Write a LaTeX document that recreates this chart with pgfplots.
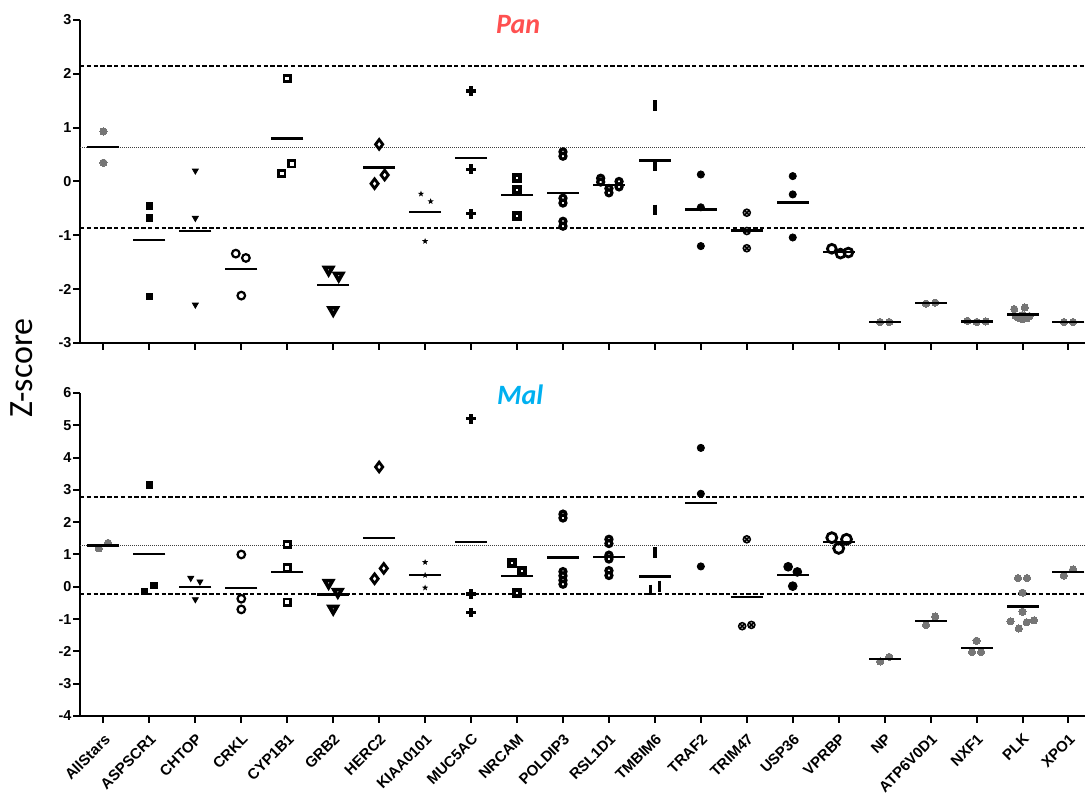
\documentclass[border=0pt]{standalone}
\usepackage{fontspec}
\setmainfont{Liberation Sans}
\newfontfamily\calibri{Carlito}
\usepackage{pgfplots}
\pgfplotsset{compat=1.18}
\usetikzlibrary{plotmarks}
\definecolor{pgrey}{RGB}{118,118,118}
\definecolor{panred}{RGB}{255,80,80}
\definecolor{malblue}{RGB}{0,176,240}

\pgfdeclareplotmark{fstar}{%
  \pgfpathmoveto{\pgfpointpolar{90}{\pgfplotmarksize}}%
  \pgfpathlineto{\pgfpointpolar{126}{0.42\pgfplotmarksize}}%
  \pgfpathlineto{\pgfpointpolar{162}{\pgfplotmarksize}}%
  \pgfpathlineto{\pgfpointpolar{198}{0.42\pgfplotmarksize}}%
  \pgfpathlineto{\pgfpointpolar{234}{\pgfplotmarksize}}%
  \pgfpathlineto{\pgfpointpolar{270}{0.42\pgfplotmarksize}}%
  \pgfpathlineto{\pgfpointpolar{306}{\pgfplotmarksize}}%
  \pgfpathlineto{\pgfpointpolar{342}{0.42\pgfplotmarksize}}%
  \pgfpathlineto{\pgfpointpolar{18}{\pgfplotmarksize}}%
  \pgfpathlineto{\pgfpointpolar{54}{0.42\pgfplotmarksize}}%
  \pgfpathclose\pgfusepathqfill}

\pgfplotsset{
  myaxis/.style={
    scale only axis, width=502.5pt, height=161.5pt,
    xmin=-0.51, xmax=21.36,
    axis x line=bottom, axis y line=left,
    axis line style={-, line width=1pt},
    xtick={0,...,21},
    major tick length=3.5pt,
    tick style={line width=1pt, black},
    tick align=outside,
    clip mode=individual,
    yticklabel style={font=\bfseries\fontsize{7.2}{8}\selectfont, inner sep=0.6pt},
    /pgf/number format/assume math mode=true,
  },
  gdot/.style={only marks, mark=*, mark size=1.8pt, mark options={fill=pgrey, draw=pgrey, line width=0pt}},
  fsq/.style={only marks, mark=square*, mark size=1.6pt, mark options={fill=black, draw=black}},
  stri/.style={only marks, mark=triangle*, mark size=1.7pt, mark options={rotate=180, fill=black, draw=black}},
  ocirc/.style={only marks, mark=o, mark size=1.9pt, mark options={line width=1.1pt, draw=black}},
  osq/.style={only marks, mark=square*, mark size=1.6pt, mark options={line width=1.4pt, fill=white, draw=black}},
  btri/.style={only marks, mark=triangle*, mark size=2.3pt, mark options={rotate=180, line width=1.8pt, fill=white, draw=black}},
  odia/.style={only marks, mark=diamond*, mark size=2.4pt, mark options={line width=1.4pt, fill=white, draw=black}},
  fstr/.style={only marks, mark=fstar, mark size=1.6pt, mark options={fill=black}},
  pls/.style={only marks, mark=+, mark size=2.4pt, mark options={line width=1.6pt, draw=black}},
  nsq/.style={only marks, mark=square*, mark size=1.5pt, mark options={line width=2pt, fill=white, draw=black}},
  blob/.style={only marks, mark=*, mark size=1.5pt, mark options={line width=1.6pt, fill=white, draw=black}},
  vbar/.style={only marks, mark=|, mark size=2.7pt, mark options={line width=1.7pt, draw=black}},
  fdot/.style={only marks, mark=*, mark size=1.8pt, mark options={fill=black, draw=black}},
  otim/.style={only marks, mark=otimes*, mark size=1.8pt, mark options={fill=gray!60, draw=black, line width=0.7pt}},
  bigo/.style={only marks, mark=o, mark size=2.2pt, mark options={line width=1.4pt, draw=black}},
  meanl/.style={only marks, mark=-, mark size=8pt, mark options={line width=1.1pt, draw=black}},
  dashl/.style={no marks, line width=1pt, dash pattern=on 2.2pt off 1.2pt, black},
  dotl/.style={no marks, line width=0.5pt, dash pattern=on 0.5pt off 0.5pt, black!75},
}

\begin{document}
\begin{tikzpicture}
\useasboundingbox (0,0) rectangle (542.5pt,398pt);

% ---------------- Pan ----------------
\begin{axis}[myaxis, at={(40pt,226.5pt)}, anchor=south west,
  ymin=-3, ymax=3, ytick={-3,...,3}, xticklabels={}]
\addplot[dashl] coordinates {(-0.51,2.14) (21.36,2.14)};
\addplot[dotl] coordinates {(-0.51,0.64) (21.36,0.64)};
\addplot[dashl] coordinates {(-0.51,-0.86) (21.36,-0.86)};
% AllStars, NP, ATP6V0D1, NXF1, PLK, XPO1
\addplot[gdot] coordinates {(0,0.93) (0,0.35)};
\addplot[gdot] coordinates {(16.9,-2.61) (17.1,-2.61)};
\addplot[gdot] coordinates {(17.9,-2.27) (18.1,-2.25)};
\addplot[gdot] coordinates {(18.8,-2.59) (19,-2.61) (19.2,-2.60)};
\addplot[gdot] coordinates {(19.82,-2.37) (20.05,-2.34) (20,-2.48) (19.85,-2.50) (20.15,-2.50) (19.9,-2.53) (20.1,-2.54) (20,-2.56)};
\addplot[gdot] coordinates {(20.9,-2.61) (21.1,-2.61)};
\addplot[fsq] coordinates {(1,-0.45) (1,-0.68) (1,-2.13)};
\addplot[stri] coordinates {(2,0.20) (2,-0.68) (2,-2.29)};
\addplot[ocirc] coordinates {(2.88,-1.34) (3.1,-1.42) (3,-2.12)};
\addplot[osq] coordinates {(4,1.91) (3.88,0.15) (4.1,0.33)};
\addplot[btri] coordinates {(4.9,-1.64) (5.12,-1.75) (5,-2.39)};
\addplot[odia] coordinates {(6,0.69) (6.12,0.12) (5.9,-0.04)};
\addplot[fstr] coordinates {(6.91,-0.23) (7.12,-0.37) (7,-1.11)};
\addplot[pls] coordinates {(8,1.68) (8,0.23) (8,-0.60)};
\addplot[nsq] coordinates {(9,0.06) (9,-0.15) (9,-0.65)};
\addplot[blob] coordinates {(10,0.55) (10,0.47) (10,-0.31) (10,-0.40) (10,-0.74) (10,-0.83)};
\addplot[blob] coordinates {(10.82,0.06) (10.82,-0.01) (11,-0.13) (11,-0.21) (11.22,0.0) (11.22,-0.10)};
\addplot[vbar] coordinates {(12,1.41) (12,0.29) (12,-0.53)};
\addplot[fdot] coordinates {(13,0.13) (13,-0.48) (13,-1.20)};
\addplot[otim] coordinates {(14,-0.58) (14,-0.92) (14,-1.24)};
\addplot[fdot] coordinates {(15,0.10) (15,-0.24) (15,-1.04)};
\addplot[bigo] coordinates {(15.85,-1.25) (16.04,-1.34) (16.21,-1.32)};
\addplot[meanl] coordinates {(0,0.64) (1,-1.09) (2,-0.92) (3,-1.63) (4,0.80) (5,-1.93) (6,0.26) (7,-0.57) (8,0.44) (9,-0.25) (10,-0.21) (11,-0.07) (12,0.39) (13,-0.52) (14,-0.91) (15,-0.39) (16,-1.31) (17,-2.61) (18,-2.26) (19,-2.60) (20,-2.47) (21,-2.61)};
\node[font=\calibri\bfseries\itshape\fontsize{14}{16}\selectfont, text=panred] at (rel axis cs:0.436,0.985) {Pan};
\end{axis}

% ---------------- Mal ----------------
\begin{axis}[myaxis, at={(40pt,40pt)}, anchor=south west,
  ymin=-4, ymax=6, ytick={-4,...,6},
  xticklabels={AllStars,ASPSCR1,CHTOP,CRKL,CYP1B1,GRB2,HERC2,KIAA0101,MUC5AC,NRCAM,POLDIP3,RSL1D1,TMBIM6,TRAF2,TRIM47,USP36,VPRBP,NP,ATP6V0D1,NXF1,PLK,XPO1},
  xticklabel style={rotate=45, anchor=north east, font=\bfseries\fontsize{7.5}{9}\selectfont, inner sep=0.8pt, yshift=-2.5pt, xshift=-2.5pt}]
\addplot[dashl] coordinates {(-0.51,2.78) (21.36,2.78)};
\addplot[dotl] coordinates {(-0.51,1.28) (21.36,1.28)};
\addplot[dashl] coordinates {(-0.51,-0.22) (21.36,-0.22)};
\addplot[gdot] coordinates {(-0.1,1.19) (0.1,1.36)};
\addplot[gdot] coordinates {(16.9,-2.31) (17.1,-2.17)};
\addplot[gdot] coordinates {(17.9,-1.18) (18.1,-0.92)};
\addplot[gdot] coordinates {(19,-1.67) (18.9,-2.02) (19.1,-2.02)};
\addplot[gdot] coordinates {(19.9,0.27) (20.1,0.27) (20,-0.18) (20,-0.77) (19.74,-1.07) (20.09,-1.10) (20.25,-1.04) (19.92,-1.29)};
\addplot[gdot] coordinates {(20.9,0.35) (21.1,0.54)};
\addplot[fsq] coordinates {(1,3.16) (0.89,-0.15) (1.1,0.05)};
\addplot[stri] coordinates {(1.9,0.27) (2.1,0.16) (2,-0.39)};
\addplot[ocirc] coordinates {(3,1.0) (3,-0.37) (3,-0.70)};
\addplot[osq] coordinates {(4,1.31) (4,0.59) (4,-0.48)};
\addplot[btri] coordinates {(4.9,0.12) (5.1,-0.16) (5,-0.68)};
\addplot[odia] coordinates {(6,3.71) (5.9,0.25) (6.1,0.57)};
\addplot[fstr] coordinates {(7,0.76) (7,0.36) (7,-0.03)};
\addplot[pls] coordinates {(8,5.20) (8,-0.22) (8,-0.80)};
\addplot[nsq] coordinates {(8.9,0.74) (9.1,0.48) (9,-0.19)};
\addplot[blob] coordinates {(10,2.25) (10,2.13) (10,0.47) (10,0.34) (10,0.20) (10,0.08)};
\addplot[blob] coordinates {(11,1.47) (11,1.34) (11,0.98) (11,0.86) (11,0.50) (11,0.35)};
\addplot[vbar] coordinates {(12,1.05) (11.9,-0.10) (12.1,0.02)};
\addplot[fdot] coordinates {(13,4.30) (13,2.88) (13,0.63)};
\addplot[otim] coordinates {(14,1.47) (13.9,-1.22) (14.1,-1.18)};
\addplot[fdot, mark size=2.2pt] coordinates {(14.9,0.62) (15.1,0.46) (15,0.02)};
\addplot[bigo, mark size=2.5pt] coordinates {(15.85,1.52) (16.17,1.47) (16,1.19)};
\addplot[meanl] coordinates {(0,1.28) (1,1.02) (2,0.0) (3,-0.03) (4,0.47) (5,-0.24) (6,1.51) (7,0.36) (8,1.39) (9,0.34) (10,0.91) (11,0.92) (12,0.32) (13,2.60) (14,-0.31) (15,0.36) (16,1.38) (17,-2.23) (18,-1.05) (19,-1.89) (20,-0.61) (21,0.45)};
\node[font=\calibri\bfseries\itshape\fontsize{14}{16}\selectfont, text=malblue] at (rel axis cs:0.438,0.994) {Mal};
\end{axis}

\node[rotate=90, font=\calibri\fontsize{17}{20}\selectfont] at (11pt,214pt) {Z-score};
\end{tikzpicture}
\end{document}
